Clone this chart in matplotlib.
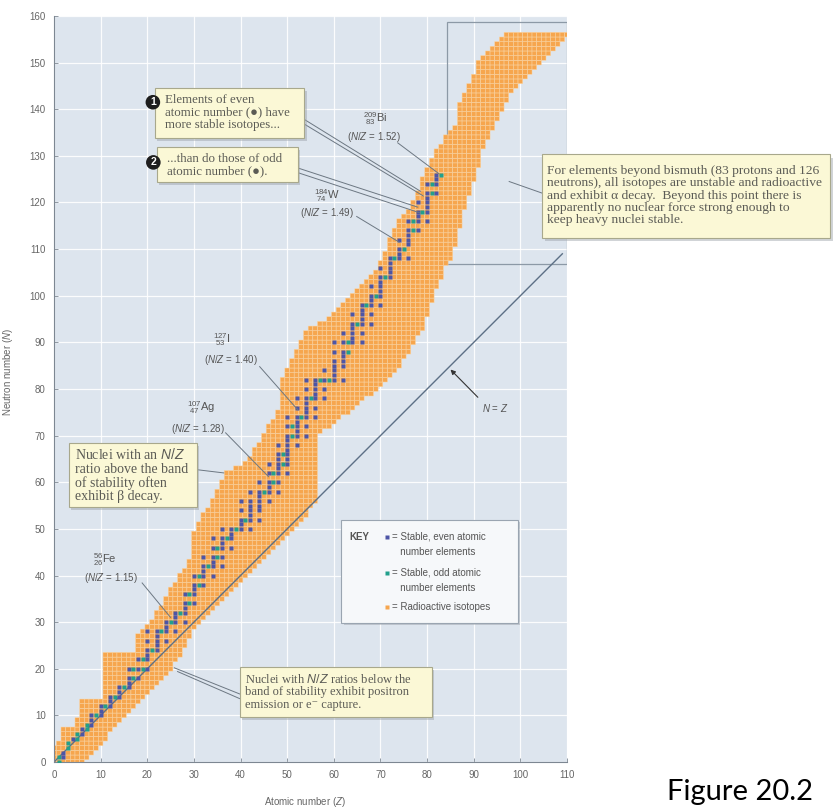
import numpy as np
import matplotlib
matplotlib.use("Agg")
import matplotlib.pyplot as plt
from matplotlib.colors import ListedColormap
from matplotlib.patches import Rectangle

# band of nuclides (radioactive + stable), lowest and highest N for Z = 0..110
band_lo = [0, 0, 0, 0, 0, 0, 0, 1, 2, 3,
           4, 5, 7, 8, 9, 10, 11, 12, 13, 14,
           15, 16, 17, 18, 19, 20, 22, 23, 25, 27,
           29, 30, 31, 32, 33, 34, 35, 36, 37, 38,
           39, 40, 41, 42, 43, 44, 45, 46, 47, 48,
           49, 50, 51, 52, 53, 55, 56, 71, 72, 72,
           73, 74, 75, 75, 76, 77, 78, 79, 79, 80,
           81, 82, 83, 84, 85, 87, 88, 90, 92, 93,
           96, 99, 102, 104, 107, 108, 111, 115, 119, 122,
           125, 128, 132, 134, 136, 138, 140, 142, 144, 145,
           146, 147, 148, 149, 150, 151, 152, 153, 154, 155,
           156]
band_hi = [3, 4, 7, 7, 7, 9, 13, 13, 13, 13,
           13, 23, 23, 23, 23, 23, 23, 23, 27, 28,
           29, 30, 32, 33, 35, 37, 38, 40, 41, 43,
           49, 51, 53, 54, 56, 58, 60, 62, 62, 63,
           63, 64, 65, 67, 68, 70, 72, 73, 75, 82,
           84, 86, 88, 90, 92, 93, 93, 94, 94, 95,
           96, 97, 98, 99, 100, 101, 102, 103, 104, 105,
           107, 109, 112, 114, 116, 117, 118, 120, 122, 125,
           127, 129, 131, 132, 134, 135, 136, 141, 143, 145,
           147, 150, 151, 152, 153, 154, 155, 156, 156, 156,
           156, 156, 156, 156, 156, 156, 156, 156, 156, 156,
           156]

# neutron numbers of the stable nuclides, indexed by Z
stable_n = [
    [],                                          # 0
    [0, 1], [1, 2], [3, 4], [5], [5, 6],         # H-B
    [6, 7], [7, 8], [8, 9, 10], [10], [10, 11, 12],
    [12], [12, 13, 14], [14], [14, 15, 16], [16],
    [16, 17, 18, 20], [18, 20], [18, 20, 22], [20, 22],
    [20, 22, 23, 24, 26, 28],                    # Ca
    [24], [24, 25, 26, 27, 28], [28], [26, 28, 29, 30], [30],
    [28, 30, 31, 32], [32], [30, 32, 33, 34, 36], [34, 36],
    [34, 36, 37, 38, 40],                        # Zn
    [38, 40], [38, 40, 41, 42, 44], [42], [40, 42, 43, 44, 46, 48],
    [44, 46], [42, 44, 46, 47, 48, 50], [48], [46, 48, 49, 50], [50],
    [50, 51, 52, 54, 56],                        # Zr
    [52], [50, 52, 53, 54, 55, 56, 58], [], [52, 54, 55, 56, 57, 58, 60],
    [58], [56, 58, 59, 60, 62, 64], [60, 62],
    [58, 60, 62, 63, 64, 65, 66, 68], [64, 66],
    [62, 64, 65, 66, 67, 68, 69, 70, 72, 74],    # Sn
    [70, 72], [68, 70, 71, 72, 73, 74, 76, 78], [74],
    [70, 72, 74, 75, 76, 77, 78, 80, 82], [78],
    [74, 76, 78, 79, 80, 81, 82], [82], [78, 80, 82, 84], [82],
    [82, 83, 84, 85, 86, 88, 90],                # Nd
    [], [82, 85, 86, 87, 88, 90, 92], [88, 90], [90, 91, 92, 93, 94, 96],
    [94], [90, 92, 94, 95, 96, 97, 98], [98], [94, 96, 98, 99, 100, 102],
    [100],
    [98, 100, 101, 102, 103, 104, 106],          # Yb
    [104], [104, 105, 106, 107, 108], [108], [108, 109, 110, 112], [110],
    [108, 111, 112, 113, 114, 116], [114, 116], [114, 116, 117, 118, 120],
    [118],
    [116, 118, 119, 120, 121, 122, 124],         # Hg
    [122, 124], [122, 124, 125, 126], [126],
]

ticks_x = list(range(0, 111, 10))
ticks_y = list(range(0, 161, 10))

orange = "#f6a64e"
blue = "#4d55a6"
green = "#22a08c"
serif = ["Liberation Serif", "DejaVu Serif"]
sans = ["Liberation Sans", "DejaVu Sans"]
note_col = "#5b5b55"
lead_col = "#6c7782"

plt.rcParams["font.family"] = sans
plt.rcParams["mathtext.fontset"] = "custom"
plt.rcParams["mathtext.rm"] = "Liberation Sans"
plt.rcParams["mathtext.it"] = "Liberation Sans:italic"

fig = plt.figure(figsize=(8.33, 8.08), dpi=100)
ax = fig.add_axes([54 / 833, 46 / 808, 513 / 833, 746 / 808])
ax.set_facecolor("#dde5ee")
ax.set_xlim(0, 110)
ax.set_ylim(0, 160)
ax.set_xticks(ticks_x)
ax.set_yticks(ticks_y)
ax.set_axisbelow(True)
ax.grid(color="white", lw=0.9, alpha=0.9)
for s in ["top", "right"]:
    ax.spines[s].set_visible(False)
for s in ["left", "bottom"]:
    ax.spines[s].set_color("#7d8792")
    ax.spines[s].set_linewidth(0.8)
ax.tick_params(direction="in", length=3, width=0.6, color="#7d8792",
               labelsize=7, labelcolor="#666666", pad=6)
ax.set_xlabel("Atomic number ($Z$)", fontsize=7, color="#666666")
ax.set_ylabel("Neutron number ($N$)", fontsize=7, color="#666666")
ax.xaxis.set_label_coords(0.49, -0.044)
ax.yaxis.set_label_coords(-0.076, 0.523)

# boxed region beyond bismuth
ax.add_patch(Rectangle((84.2, 106.8), 110 - 84.2, 158.8 - 106.8, fill=False,
                       ec="#8c99a6", lw=0.9, zorder=1.5))

# band of radioactive isotopes as cells
nz = len(band_lo)
cells = np.zeros((161, nz))
for z in range(nz):
    cells[band_lo[z]:band_hi[z] + 1, z] = 1
cells = np.ma.masked_equal(cells, 0)
ax.pcolor(np.arange(-0.5, nz, 1), np.arange(-0.5, 161, 1), cells,
          cmap=ListedColormap([orange]), edgecolors="#fbd6a6",
          linewidth=0.35, zorder=2)

# stable nuclides
for z, ns in enumerate(stable_n):
    if not ns:
        continue
    ax.plot([z] * len(ns), ns, "s", ms=2.9, mec="none",
            color=blue if z % 2 == 0 else green, zorder=3)

# N = Z line
ax.plot([0, 109], [0, 109], color="#5d7086", lw=1.0, zorder=2.5)
ax.annotate("", xy=(84.6, 84.6), xytext=(91.3, 77.8), zorder=4,
            arrowprops=dict(arrowstyle="-|>", color="#333333", lw=0.8,
                            mutation_scale=7))
ax.text(94.6, 76, "$N$ = $Z$", fontsize=7, color="#555555",
        ha="center", va="center")


def lead(p0, p1):
    ax.plot([p0[0], p1[0]], [p0[1], p1[1]], color=lead_col, lw=0.7,
            zorder=4, clip_on=False)


def note_box(x0, y0, x1, y1, fc="#fbf8d6", ec="#a8a88c"):
    ax.add_patch(Rectangle((x0 + 0.5, y0 - 0.7), x1 - x0, y1 - y0,
                           fc="#9aa0a8", ec="none", alpha=0.45,
                           clip_on=False, zorder=5))
    ax.add_patch(Rectangle((x0, y0), x1 - x0, y1 - y0, fc=fc, ec=ec,
                           lw=0.8, clip_on=False, zorder=6))


def note(x, y, txt, size):
    ax.text(x, y, txt, family=serif, fontsize=size, color=note_col,
            ha="left", va="center", linespacing=1.05, zorder=7, clip_on=False)


def circled(x, y, num):
    ax.text(x, y, num, fontsize=7.5, color="white", weight="bold",
            ha="center", va="center", zorder=8,
            bbox=dict(boxstyle="circle,pad=0.22", fc="#1e1e1e", ec="none"))


# isotope labels
iso = [
    (69.0, 138.0, r"${}^{209}_{\ 83}$Bi", 68.6, 134.0, (73.7, 132.8), (82.5, 126.2), "1.52"),
    (58.5, 121.5, r"${}^{184}_{\ 74}$W", 58.6, 117.8, (64.9, 117.0), (74.0, 111.5), "1.49"),
    (36.0, 90.5, r"${}^{127}_{\ 53}$I", 37.9, 86.3, (44.1, 84.8), (52.3, 75.5), "1.40"),
    (31.5, 76.0, r"${}^{107}_{\ 47}$Ag", 30.9, 71.5, (36.8, 70.6), (46.0, 61.2), "1.28"),
    (11.0, 43.5, r"${}^{56}_{26}$Fe", 12.2, 39.5, (18.9, 38.4), (25.0, 31.0), "1.15"),
]
for sx, sy, sym, rx, ry, p0, p1, ratio in iso:
    ax.text(sx, sy, sym, fontsize=8, color="#555555", ha="center", va="center", zorder=7)
    ax.text(rx, ry, "($N/Z$ = %s)" % ratio, fontsize=7, color="#555555",
            ha="center", va="center", zorder=7)
    lead(p0, p1)

# note 1 and 2
lead((53.7, 137.8), (78.6, 122.4))
lead((53.7, 136.8), (79.2, 121.4))
lead((52.3, 127.4), (78.0, 119.0))
lead((52.3, 126.4), (78.4, 117.8))
note_box(21.6, 133.9, 53.7, 144.6)
note(23.8, 139.3, "Elements of even\natomic number (\u25cf) have\nmore stable isotopes...", 9.3)
circled(21.2, 141.5, "1")
note_box(22.0, 124.5, 52.3, 132.0)
note(24.2, 128.1, "...than do those of odd\natomic number (\u25cf).", 9.3)
circled(21.3, 128.6, "2")

# note on beta decay
lead((30.6, 62.7), (36.4, 62.0))
note_box(3.2, 54.7, 30.6, 68.5)
note(4.6, 61.5, "Nuclei with an $N/Z$\nratio above the band\nof stability often\nexhibit \u03b2 decay.", 10)

# note on positron emission
lead((39.8, 14.6), (25.8, 20.2))
lead((39.8, 13.6), (26.5, 19.4))
note_box(39.8, 9.7, 81.0, 20.4)
note(40.9, 15.1, "Nuclei with $N/Z$ ratios below the\nband of stability exhibit positron\nemission or e\u207b capture.", 9)

# note beyond bismuth
lead((104.7, 122.0), (97.6, 124.5))
note_box(104.7, 112.4, 166.5, 130.3)
note(105.8, 121.5,
     "For elements beyond bismuth (83 protons and 126\n"
     "neutrons), all isotopes are unstable and radioactive\n"
     "and exhibit \u03b1 decay.  Beyond this point there is\n"
     "apparently no nuclear force strong enough to\n"
     "keep heavy nuclei stable.", 9.7)

# key
ax.add_patch(Rectangle((62.1, 29.3), 37.8, 22.1, fc="#9aa0a8", ec="none",
                       alpha=0.45, zorder=5))
ax.add_patch(Rectangle((61.6, 29.8), 37.8, 22.1, fc="#f6f8fa", ec="#9aa5b1",
                       lw=0.8, zorder=6))
ax.text(63.4, 48.3, "KEY", fontsize=7, weight="bold", color="#555555",
        ha="left", va="center", zorder=7)
ax.plot([71.3], [48.3], "s", ms=3, color=blue, mec="none", zorder=7)
ax.plot([71.3], [40.6], "s", ms=3, color=green, mec="none", zorder=7)
ax.plot([71.3], [33.3], "s", ms=3.5, color=orange, mec="none", zorder=7)
key_lines = [(48.3, "= Stable, even atomic"), (45.1, "   number elements"),
             (40.6, "= Stable, odd atomic"), (37.3, "   number elements"),
             (33.3, "= Radioactive isotopes")]
for y, t in key_lines:
    ax.text(72.5, y, t, fontsize=7, color="#555555", ha="left", va="center", zorder=7)

fig.text(667 / 833, 8 / 808, "Figure 20.2", family=["Lato", "DejaVu Sans"],
         fontsize=21, color="black", ha="left", va="baseline")

fig.savefig("out.png", dpi=100)
